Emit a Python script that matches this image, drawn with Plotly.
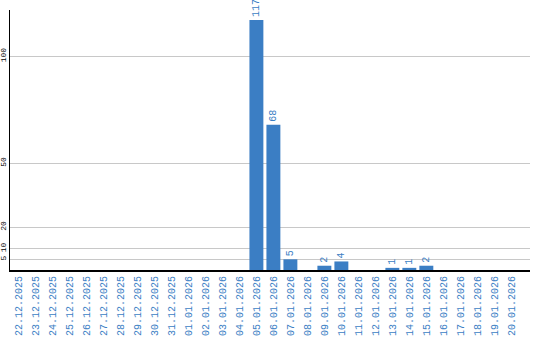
import plotly.graph_objects as go

dates = ["22.12.2025", "23.12.2025", "24.12.2025", "25.12.2025", "26.12.2025",
         "27.12.2025", "28.12.2025", "29.12.2025", "30.12.2025", "31.12.2025",
         "01.01.2026", "02.01.2026", "03.01.2026", "04.01.2026", "05.01.2026",
         "06.01.2026", "07.01.2026", "08.01.2026", "09.01.2026", "10.01.2026",
         "11.01.2026", "12.01.2026", "13.01.2026", "14.01.2026", "15.01.2026",
         "16.01.2026", "17.01.2026", "18.01.2026", "19.01.2026", "20.01.2026"]
values = [0, 0, 0, 0, 0, 0, 0, 0, 0, 0,
          0, 0, 0, 0, 117, 68, 5, 0, 2, 4,
          0, 0, 1, 1, 2, 0, 0, 0, 0, 0]
y_ticks = [5, 10, 20, 50, 100]

blue = "#3b7ec4"
labels = [str(v) if v else "" for v in values]

fig = go.Figure(go.Bar(
    x=dates, y=values, marker_color=blue, marker_line_width=0,
    text=labels, textposition="outside", textangle=-90,
    textfont=dict(family="Liberation Mono", size=10, color=blue),
    cliponaxis=False, constraintext="none",
))
fig.update_layout(
    width=540, height=340,
    margin=dict(l=10, r=10, t=10, b=70),
    paper_bgcolor="white", plot_bgcolor="white",
    bargap=0.18, showlegend=False,
)
fig.update_xaxes(
    type="category", tickangle=-90, showgrid=False, automargin=False,
    range=[-0.5, 30.1],
    tickfont=dict(family="Liberation Mono", size=10, color=blue),
    showline=True, linecolor="black", linewidth=2, ticks="",
)
fig.update_yaxes(
    range=[0, 121.7], tickvals=y_ticks, ticktext=[str(t) for t in y_ticks],
    tickangle=-90, automargin=False, ticklabelstandoff=0,
    tickfont=dict(family="Liberation Mono", size=8, color="black"),
    showgrid=True, gridcolor="#c8c8c8", gridwidth=1, zeroline=False,
    showline=True, linecolor="black", linewidth=1, ticks="",
)
fig.write_html("out.html")
